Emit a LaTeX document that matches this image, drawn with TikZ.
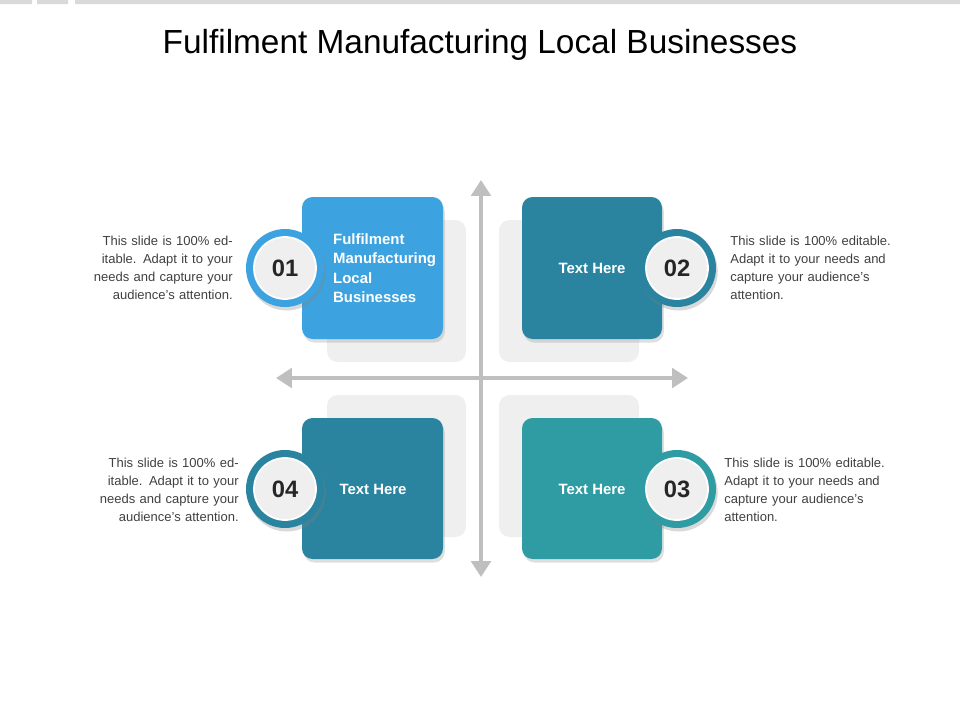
\documentclass[tikz,border=0pt]{standalone}
\usepackage{fontspec}
\setmainfont{Liberation Sans}
\usetikzlibrary{arrows.meta,shadows}
\definecolor{cA}{HTML}{3DA3E0}
\definecolor{cB}{HTML}{2A84A0}
\definecolor{cC}{HTML}{2F9CA3}
\definecolor{shd}{HTML}{EFEFEF}
\definecolor{axc}{HTML}{BFBFBF}
\definecolor{txt}{HTML}{404040}
\tikzset{
 sq/.style={rounded corners=6pt,drop shadow={shadow xshift=1pt,shadow yshift=-2pt,opacity=.25}},
 back/.style={fill=shd,rounded corners=6pt},
 ring/.style={circle,minimum size=78*0.02cm,inner sep=0,line width=0},
 num/.style={circle,fill=shd,draw=white,line width=1pt,minimum size=62*0.02cm,inner sep=0,font=\bfseries\fontsize{13.5}{15}\selectfont,text=black!85},
 desc/.style={font=\fontsize{7.4}{10.2}\selectfont,text=txt,text width=3.3cm,inner sep=0},
 btext/.style={font=\bfseries\fontsize{8.5}{11}\selectfont,text=white},
 axis/.style={draw=axc,line width=2.2pt,-{Triangle[length=9pt,width=11pt]}}
}
\begin{document}
\begin{tikzpicture}[x=0.02cm,y=-0.02cm]
\useasboundingbox (0,0) rectangle (960,720);
\fill[gray!30] (0,0) rectangle (32,4) (37,0) rectangle (68,4) (75,0) rectangle (960,4);
\node[font=\fontsize{19}{22}\selectfont] (title) at (480,45) {Fulfilment Manufacturing Local Businesses};
% back squares
\fill[back] (327,220) rectangle (466,362);
\fill[back] (499,220) rectangle (639,362);
\fill[back] (327,395) rectangle (466,537);
\fill[back] (499,395) rectangle (639,537);
% axes
\coordinate (c) at (481,378);
\coordinate (t) at (481,180); \coordinate (b) at (481,577);
\coordinate (l) at (276,378); \coordinate (r) at (688,378);
\draw[axis] (c) -- (t); \draw[axis] (c) -- (b);
\draw[axis] (c) -- (l); \draw[axis] (c) -- (r);
% squares
\fill[sq,fill=cA] (302,197) rectangle (443,339);
\fill[sq,fill=cB] (522,197) rectangle (662,339);
\fill[sq,fill=cB] (302,418) rectangle (443,559);
\fill[sq,fill=cC] (522,418) rectangle (662,559);
\node[btext,align=left,anchor=west] (t1) at (327,268) {Fulfilment\\Manufacturing\\Local\\Businesses};
\node[btext] (t2) at (592,268) {Text Here};
\node[btext] (t4) at (373,489) {Text Here};
\node[btext] (t3) at (592,489) {Text Here};
% rings
\foreach \n/\x/\y/\c in {1/285/268/cA,2/677/268/cB,4/285/489/cB,3/677/489/cC}{
 \node[ring,fill=\c,drop shadow={shadow xshift=1pt,shadow yshift=-2pt,opacity=.3}] (r\n) at (\x,\y) {};
 \node[num] (n\n) at (\x,\y) {0\n};
}
\node[desc,align=right,anchor=east] (d1) at (233,268) {This slide is 100\% editable. Adapt it to your needs and capture your audience's attention.};
\node[desc,align=left,anchor=west] (d2) at (730,268) {This slide is 100\% editable. Adapt it to your needs and capture your audience's attention.};
\node[desc,align=right,anchor=east] (d4) at (239,490) {This slide is 100\% editable. Adapt it to your needs and capture your audience's attention.};
\node[desc,align=left,anchor=west] (d3) at (724,490) {This slide is 100\% editable. Adapt it to your needs and capture your audience's attention.};
\end{tikzpicture}
\end{document}
